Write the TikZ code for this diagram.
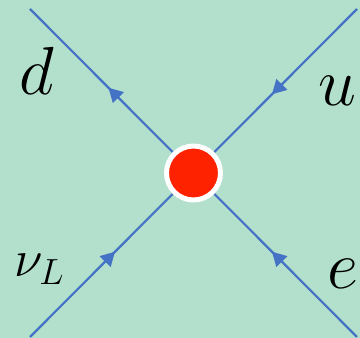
\RequirePackage{fix-cm}
\documentclass[tikz,border=0pt]{standalone}
\usepackage{tikz}
\usetikzlibrary{arrows.meta,decorations.markings}
\definecolor{mintbg}{HTML}{B3DFCD}
\definecolor{legblue}{HTML}{4472C4}
\definecolor{vertexred}{HTML}{FF2200}

\tikzset{
  leg/.style={draw=legblue, line width=2.2pt, postaction={decorate},
    decoration={markings,
      mark=at position 0.52 with {\arrow{Triangle[length=14pt,width=15pt]}}}},
  vertex/.style={circle, fill=vertexred, draw=white, line width=5pt,
    minimum size=54pt, inner sep=0pt},
  lbl/.style={inner sep=0pt, anchor=base west}
}

\begin{document}
\begin{tikzpicture}[x=1pt,y=1pt]
  \fill[mintbg] (0,0) rectangle (360,338);
  \useasboundingbox (0,0) rectangle (360,338);
  \coordinate (c) at (193.5,165);
  \coordinate (tl) at (30,329);
  \coordinate (tr) at (357,329);
  \coordinate (bl) at (30,1);
  \coordinate (br) at (357,1);
  \draw[leg] (c) -- (tl); % outgoing d
  \draw[leg] (tr) -- (c);
  \draw[leg] (bl) -- (c);
  \draw[leg] (br) -- (c);
  \node[vertex] (vtx) at (c) {};
  \node[lbl, font=\fontsize{68}{70}\selectfont] (dlbl) at (19,243) {$d$};
  \node[lbl, font=\fontsize{68}{70}\selectfont] (ulbl) at (318,232) {$u$};
  \node[lbl, font=\fontsize{52}{54}\selectfont] (nulbl) at (14,61) {$\nu_L$};
  \node[lbl, font=\fontsize{68}{70}\selectfont] (elbl) at (327,49) {$e$};
\end{tikzpicture}
\end{document}
